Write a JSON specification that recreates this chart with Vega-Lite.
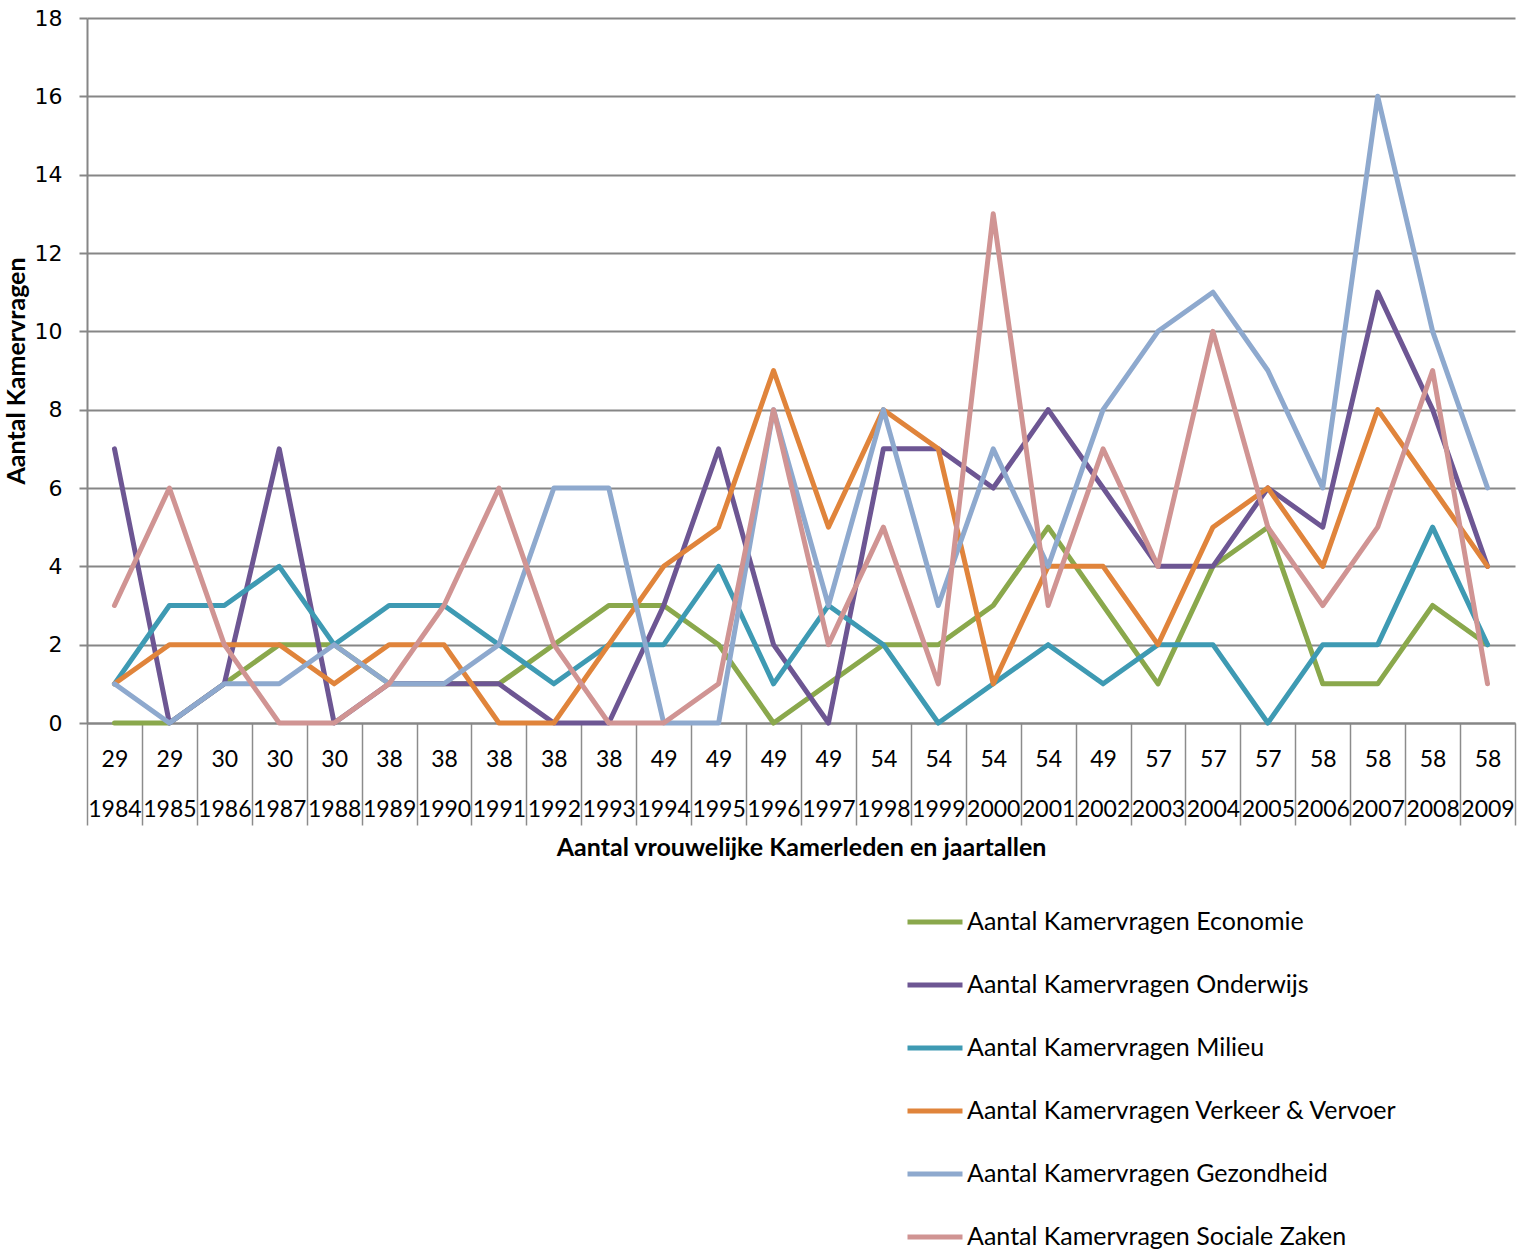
{
  "$schema": "https://vega.github.io/schema/vega-lite/v6.json",
  "width": 1428,
  "height": 705,
  "autosize": {"type": "none"},
  "padding": {"left": 87, "top": 18, "right": 11, "bottom": 527},
  "background": "white",
  "data": {
    "values": [
      {"categorie": "29|1984", "Aantal Kamervragen Economie": 0, "Aantal Kamervragen Onderwijs": 7, "Aantal Kamervragen Milieu": 1, "Aantal Kamervragen Verkeer & Vervoer": 1, "Aantal Kamervragen Gezondheid": 1, "Aantal Kamervragen Sociale Zaken": 3},
      {"categorie": "29|1985", "Aantal Kamervragen Economie": 0, "Aantal Kamervragen Onderwijs": 0, "Aantal Kamervragen Milieu": 3, "Aantal Kamervragen Verkeer & Vervoer": 2, "Aantal Kamervragen Gezondheid": 0, "Aantal Kamervragen Sociale Zaken": 6},
      {"categorie": "30|1986", "Aantal Kamervragen Economie": 1, "Aantal Kamervragen Onderwijs": 1, "Aantal Kamervragen Milieu": 3, "Aantal Kamervragen Verkeer & Vervoer": 2, "Aantal Kamervragen Gezondheid": 1, "Aantal Kamervragen Sociale Zaken": 2},
      {"categorie": "30|1987", "Aantal Kamervragen Economie": 2, "Aantal Kamervragen Onderwijs": 7, "Aantal Kamervragen Milieu": 4, "Aantal Kamervragen Verkeer & Vervoer": 2, "Aantal Kamervragen Gezondheid": 1, "Aantal Kamervragen Sociale Zaken": 0},
      {"categorie": "30|1988", "Aantal Kamervragen Economie": 2, "Aantal Kamervragen Onderwijs": 0, "Aantal Kamervragen Milieu": 2, "Aantal Kamervragen Verkeer & Vervoer": 1, "Aantal Kamervragen Gezondheid": 2, "Aantal Kamervragen Sociale Zaken": 0},
      {"categorie": "38|1989", "Aantal Kamervragen Economie": 1, "Aantal Kamervragen Onderwijs": 1, "Aantal Kamervragen Milieu": 3, "Aantal Kamervragen Verkeer & Vervoer": 2, "Aantal Kamervragen Gezondheid": 1, "Aantal Kamervragen Sociale Zaken": 1},
      {"categorie": "38|1990", "Aantal Kamervragen Economie": 1, "Aantal Kamervragen Onderwijs": 1, "Aantal Kamervragen Milieu": 3, "Aantal Kamervragen Verkeer & Vervoer": 2, "Aantal Kamervragen Gezondheid": 1, "Aantal Kamervragen Sociale Zaken": 3},
      {"categorie": "38|1991", "Aantal Kamervragen Economie": 1, "Aantal Kamervragen Onderwijs": 1, "Aantal Kamervragen Milieu": 2, "Aantal Kamervragen Verkeer & Vervoer": 0, "Aantal Kamervragen Gezondheid": 2, "Aantal Kamervragen Sociale Zaken": 6},
      {"categorie": "38|1992", "Aantal Kamervragen Economie": 2, "Aantal Kamervragen Onderwijs": 0, "Aantal Kamervragen Milieu": 1, "Aantal Kamervragen Verkeer & Vervoer": 0, "Aantal Kamervragen Gezondheid": 6, "Aantal Kamervragen Sociale Zaken": 2},
      {"categorie": "38|1993", "Aantal Kamervragen Economie": 3, "Aantal Kamervragen Onderwijs": 0, "Aantal Kamervragen Milieu": 2, "Aantal Kamervragen Verkeer & Vervoer": 2, "Aantal Kamervragen Gezondheid": 6, "Aantal Kamervragen Sociale Zaken": 0},
      {"categorie": "49|1994", "Aantal Kamervragen Economie": 3, "Aantal Kamervragen Onderwijs": 3, "Aantal Kamervragen Milieu": 2, "Aantal Kamervragen Verkeer & Vervoer": 4, "Aantal Kamervragen Gezondheid": 0, "Aantal Kamervragen Sociale Zaken": 0},
      {"categorie": "49|1995", "Aantal Kamervragen Economie": 2, "Aantal Kamervragen Onderwijs": 7, "Aantal Kamervragen Milieu": 4, "Aantal Kamervragen Verkeer & Vervoer": 5, "Aantal Kamervragen Gezondheid": 0, "Aantal Kamervragen Sociale Zaken": 1},
      {"categorie": "49|1996", "Aantal Kamervragen Economie": 0, "Aantal Kamervragen Onderwijs": 2, "Aantal Kamervragen Milieu": 1, "Aantal Kamervragen Verkeer & Vervoer": 9, "Aantal Kamervragen Gezondheid": 8, "Aantal Kamervragen Sociale Zaken": 8},
      {"categorie": "49|1997", "Aantal Kamervragen Economie": 1, "Aantal Kamervragen Onderwijs": 0, "Aantal Kamervragen Milieu": 3, "Aantal Kamervragen Verkeer & Vervoer": 5, "Aantal Kamervragen Gezondheid": 3, "Aantal Kamervragen Sociale Zaken": 2},
      {"categorie": "54|1998", "Aantal Kamervragen Economie": 2, "Aantal Kamervragen Onderwijs": 7, "Aantal Kamervragen Milieu": 2, "Aantal Kamervragen Verkeer & Vervoer": 8, "Aantal Kamervragen Gezondheid": 8, "Aantal Kamervragen Sociale Zaken": 5},
      {"categorie": "54|1999", "Aantal Kamervragen Economie": 2, "Aantal Kamervragen Onderwijs": 7, "Aantal Kamervragen Milieu": 0, "Aantal Kamervragen Verkeer & Vervoer": 7, "Aantal Kamervragen Gezondheid": 3, "Aantal Kamervragen Sociale Zaken": 1},
      {"categorie": "54|2000", "Aantal Kamervragen Economie": 3, "Aantal Kamervragen Onderwijs": 6, "Aantal Kamervragen Milieu": 1, "Aantal Kamervragen Verkeer & Vervoer": 1, "Aantal Kamervragen Gezondheid": 7, "Aantal Kamervragen Sociale Zaken": 13},
      {"categorie": "54|2001", "Aantal Kamervragen Economie": 5, "Aantal Kamervragen Onderwijs": 8, "Aantal Kamervragen Milieu": 2, "Aantal Kamervragen Verkeer & Vervoer": 4, "Aantal Kamervragen Gezondheid": 4, "Aantal Kamervragen Sociale Zaken": 3},
      {"categorie": "49|2002", "Aantal Kamervragen Economie": 3, "Aantal Kamervragen Onderwijs": 6, "Aantal Kamervragen Milieu": 1, "Aantal Kamervragen Verkeer & Vervoer": 4, "Aantal Kamervragen Gezondheid": 8, "Aantal Kamervragen Sociale Zaken": 7},
      {"categorie": "57|2003", "Aantal Kamervragen Economie": 1, "Aantal Kamervragen Onderwijs": 4, "Aantal Kamervragen Milieu": 2, "Aantal Kamervragen Verkeer & Vervoer": 2, "Aantal Kamervragen Gezondheid": 10, "Aantal Kamervragen Sociale Zaken": 4},
      {"categorie": "57|2004", "Aantal Kamervragen Economie": 4, "Aantal Kamervragen Onderwijs": 4, "Aantal Kamervragen Milieu": 2, "Aantal Kamervragen Verkeer & Vervoer": 5, "Aantal Kamervragen Gezondheid": 11, "Aantal Kamervragen Sociale Zaken": 10},
      {"categorie": "57|2005", "Aantal Kamervragen Economie": 5, "Aantal Kamervragen Onderwijs": 6, "Aantal Kamervragen Milieu": 0, "Aantal Kamervragen Verkeer & Vervoer": 6, "Aantal Kamervragen Gezondheid": 9, "Aantal Kamervragen Sociale Zaken": 5},
      {"categorie": "58|2006", "Aantal Kamervragen Economie": 1, "Aantal Kamervragen Onderwijs": 5, "Aantal Kamervragen Milieu": 2, "Aantal Kamervragen Verkeer & Vervoer": 4, "Aantal Kamervragen Gezondheid": 6, "Aantal Kamervragen Sociale Zaken": 3},
      {"categorie": "58|2007", "Aantal Kamervragen Economie": 1, "Aantal Kamervragen Onderwijs": 11, "Aantal Kamervragen Milieu": 2, "Aantal Kamervragen Verkeer & Vervoer": 8, "Aantal Kamervragen Gezondheid": 16, "Aantal Kamervragen Sociale Zaken": 5},
      {"categorie": "58|2008", "Aantal Kamervragen Economie": 3, "Aantal Kamervragen Onderwijs": 8, "Aantal Kamervragen Milieu": 5, "Aantal Kamervragen Verkeer & Vervoer": 6, "Aantal Kamervragen Gezondheid": 10, "Aantal Kamervragen Sociale Zaken": 9},
      {"categorie": "58|2009", "Aantal Kamervragen Economie": 2, "Aantal Kamervragen Onderwijs": 4, "Aantal Kamervragen Milieu": 2, "Aantal Kamervragen Verkeer & Vervoer": 4, "Aantal Kamervragen Gezondheid": 6, "Aantal Kamervragen Sociale Zaken": 1}
    ]
  },
  "transform": [
    {"fold": ["Aantal Kamervragen Economie", "Aantal Kamervragen Onderwijs", "Aantal Kamervragen Milieu", "Aantal Kamervragen Verkeer & Vervoer", "Aantal Kamervragen Gezondheid", "Aantal Kamervragen Sociale Zaken"], "as": ["reeks", "aantal"]}
  ],
  "mark": {"type": "line", "strokeWidth": 5, "strokeJoin": "round", "strokeCap": "round"},
  "encoding": {
    "x": {
      "field": "categorie",
      "type": "ordinal",
      "sort": null,
      "scale": {"type": "band", "paddingInner": 0, "paddingOuter": 0},
      "axis": {
        "title": "Aantal vrouwelijke Kamerleden en jaartallen",
        "titleFont": "Lato",
        "titleFontSize": 25,
        "titleFontWeight": "bold",
        "titleColor": "black",
        "titlePadding": 10,
        "labelExpr": "split(datum.label, '|')",
        "labelAngle": 0,
        "labelFont": "Lato",
        "labelFontSize": 23,
        "labelColor": "black",
        "labelLineHeight": 50,
        "labelBaseline": "top",
        "labelPadding": -77,
        "labelOverlap": false,
        "labelBound": false,
        "tickBand": "extent",
        "tickSize": 102,
        "tickColor": "#8c8c8c",
        "tickWidth": 1.5,
        "domainColor": "#868686",
        "domainWidth": 2,
        "grid": false
      }
    },
    "y": {
      "field": "aantal",
      "type": "quantitative",
      "scale": {"domain": [0, 18], "nice": false},
      "axis": {
        "title": "Aantal Kamervragen",
        "titleFont": "Lato",
        "titleFontSize": 25,
        "titleFontWeight": "bold",
        "titleColor": "black",
        "titlePadding": 5,
        "values": [0, 2, 4, 6, 8, 10, 12, 14, 16, 18],
        "labelFont": "DejaVu Sans",
        "labelFontSize": 22,
        "labelColor": "black",
        "labelPadding": 17,
        "tickSize": 8,
        "tickColor": "#868686",
        "tickWidth": 2,
        "domainColor": "#868686",
        "domainWidth": 2,
        "gridColor": "#868686",
        "gridWidth": 2
      }
    },
    "color": {
      "field": "reeks",
      "type": "nominal",
      "scale": {
        "domain": ["Aantal Kamervragen Economie", "Aantal Kamervragen Onderwijs", "Aantal Kamervragen Milieu", "Aantal Kamervragen Verkeer & Vervoer", "Aantal Kamervragen Gezondheid", "Aantal Kamervragen Sociale Zaken"],
        "range": ["#8AA84C", "#6D5693", "#3E9AB3", "#E0843B", "#8EA9CE", "#D09493"]
      },
      "legend": {
        "title": null,
        "orient": "none",
        "legendX": 818,
        "legendY": 874,
        "symbolType": "stroke",
        "symbolSize": 3025,
        "symbolStrokeWidth": 5,
        "labelFont": "Lato",
        "labelFontSize": 25,
        "labelColor": "black",
        "labelOffset": 2,
        "labelLimit": 600,
        "rowPadding": 20
      }
    }
  },
  "config": {"view": {"stroke": null}}
}
